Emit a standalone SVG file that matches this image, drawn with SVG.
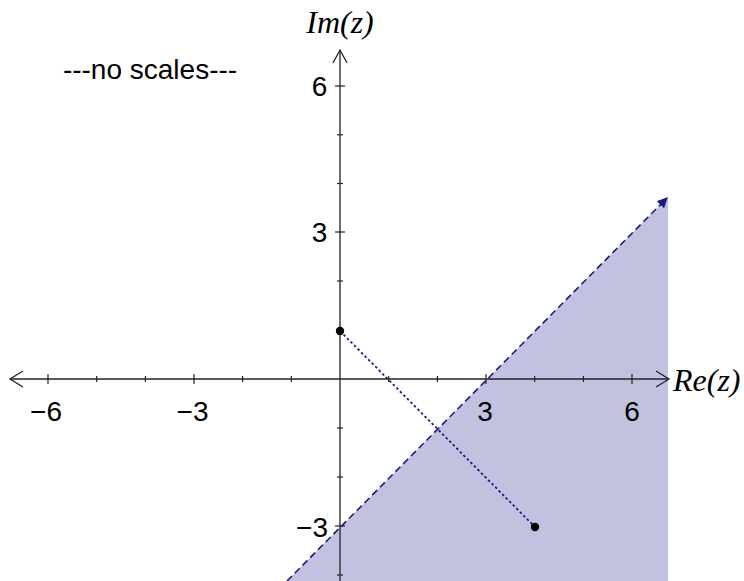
<svg xmlns="http://www.w3.org/2000/svg" width="744" height="581" viewBox="0 0 744 581">
<style>
.ax{stroke:#222;stroke-width:1.3;fill:none}
.tk{stroke:#222;stroke-width:1.2}
.num{font-family:"Liberation Sans",Arial,sans-serif;font-size:28px;fill:#000}
.lab{font-family:"Liberation Serif","Times New Roman",serif;font-style:italic;font-size:32px;fill:#000}
</style>
<defs>
<marker id="fa" viewBox="0 0 10 10" refX="9" refY="5" markerWidth="6.5" markerHeight="6.5" orient="auto" markerUnits="strokeWidth">
<path d="M0,0 L10,5 L0,10 z" fill="#1a1a80"/>
</marker>
</defs>
<rect width="744" height="581" fill="#fff"/>
<g id="region">
<polygon points="287,581 668,197 668,581" fill="#c2c2e0"/>
</g>
<g id="connectors">
<line x1="287" y1="581" x2="667" y2="198" stroke="#1a1a80" stroke-width="1.6" stroke-dasharray="7,4" marker-end="url(#fa)"/>
<line x1="340" y1="331" x2="535" y2="527" stroke="#1a1a80" stroke-width="1.8" stroke-dasharray="2.5,2.5"/>
</g>
<g id="axes">
<line class="ax" x1="10" y1="379" x2="668" y2="379"/>
<polyline class="ax" points="23,371 10,379 23,387"/>
<polyline class="ax" points="656,371 669,379 656,387"/>
<line class="ax" x1="340" y1="50" x2="340" y2="581"/>
<polyline class="ax" points="333,63 340,50 347,63"/>
<g class="tk">
<line x1="48" y1="374" x2="48" y2="384"/>
<line x1="96.7" y1="376" x2="96.7" y2="382"/>
<line x1="145.4" y1="376" x2="145.4" y2="382"/>
<line x1="194" y1="374" x2="194" y2="384"/>
<line x1="242.6" y1="376" x2="242.6" y2="382"/>
<line x1="291.3" y1="376" x2="291.3" y2="382"/>
<line x1="388.7" y1="376" x2="388.7" y2="382"/>
<line x1="437.4" y1="376" x2="437.4" y2="382"/>
<line x1="486" y1="374" x2="486" y2="384"/>
<line x1="534.7" y1="376" x2="534.7" y2="382"/>
<line x1="583.4" y1="376" x2="583.4" y2="382"/>
<line x1="632" y1="374" x2="632" y2="384"/>
<line x1="335" y1="86" x2="345" y2="86"/>
<line x1="337" y1="134.8" x2="343" y2="134.8"/>
<line x1="337" y1="183.5" x2="343" y2="183.5"/>
<line x1="335" y1="232" x2="345" y2="232"/>
<line x1="337" y1="281" x2="343" y2="281"/>
<line x1="337" y1="330" x2="343" y2="330"/>
<line x1="337" y1="428" x2="343" y2="428"/>
<line x1="337" y1="477" x2="343" y2="477"/>
<line x1="335" y1="526" x2="345" y2="526"/>
<line x1="337" y1="575" x2="343" y2="575"/>
</g>
</g>
<g id="points">
<circle cx="340" cy="331" r="4.2" fill="#000"/>
<circle cx="535" cy="527" r="4.2" fill="#000"/>
</g>
<g id="labels">
<text class="lab" x="340" y="33" text-anchor="middle">Im(z)</text>
<text class="lab" x="673" y="391">Re(z)</text>
<text class="num" x="319.5" y="96" text-anchor="middle">6</text>
<text class="num" x="319.5" y="242" text-anchor="middle">3</text>
<text class="num" x="328" y="537" text-anchor="end">−3</text>
<text class="num" x="46" y="421" text-anchor="middle">−6</text>
<text class="num" x="192.5" y="421" text-anchor="middle">−3</text>
<text class="num" x="485" y="421" text-anchor="middle">3</text>
<text class="num" x="632" y="421" text-anchor="middle">6</text>
<text x="150" y="79" text-anchor="middle" font-family="'Liberation Sans',Arial,sans-serif" font-size="28" fill="#000">---no scales---</text>
</g>
</svg>
